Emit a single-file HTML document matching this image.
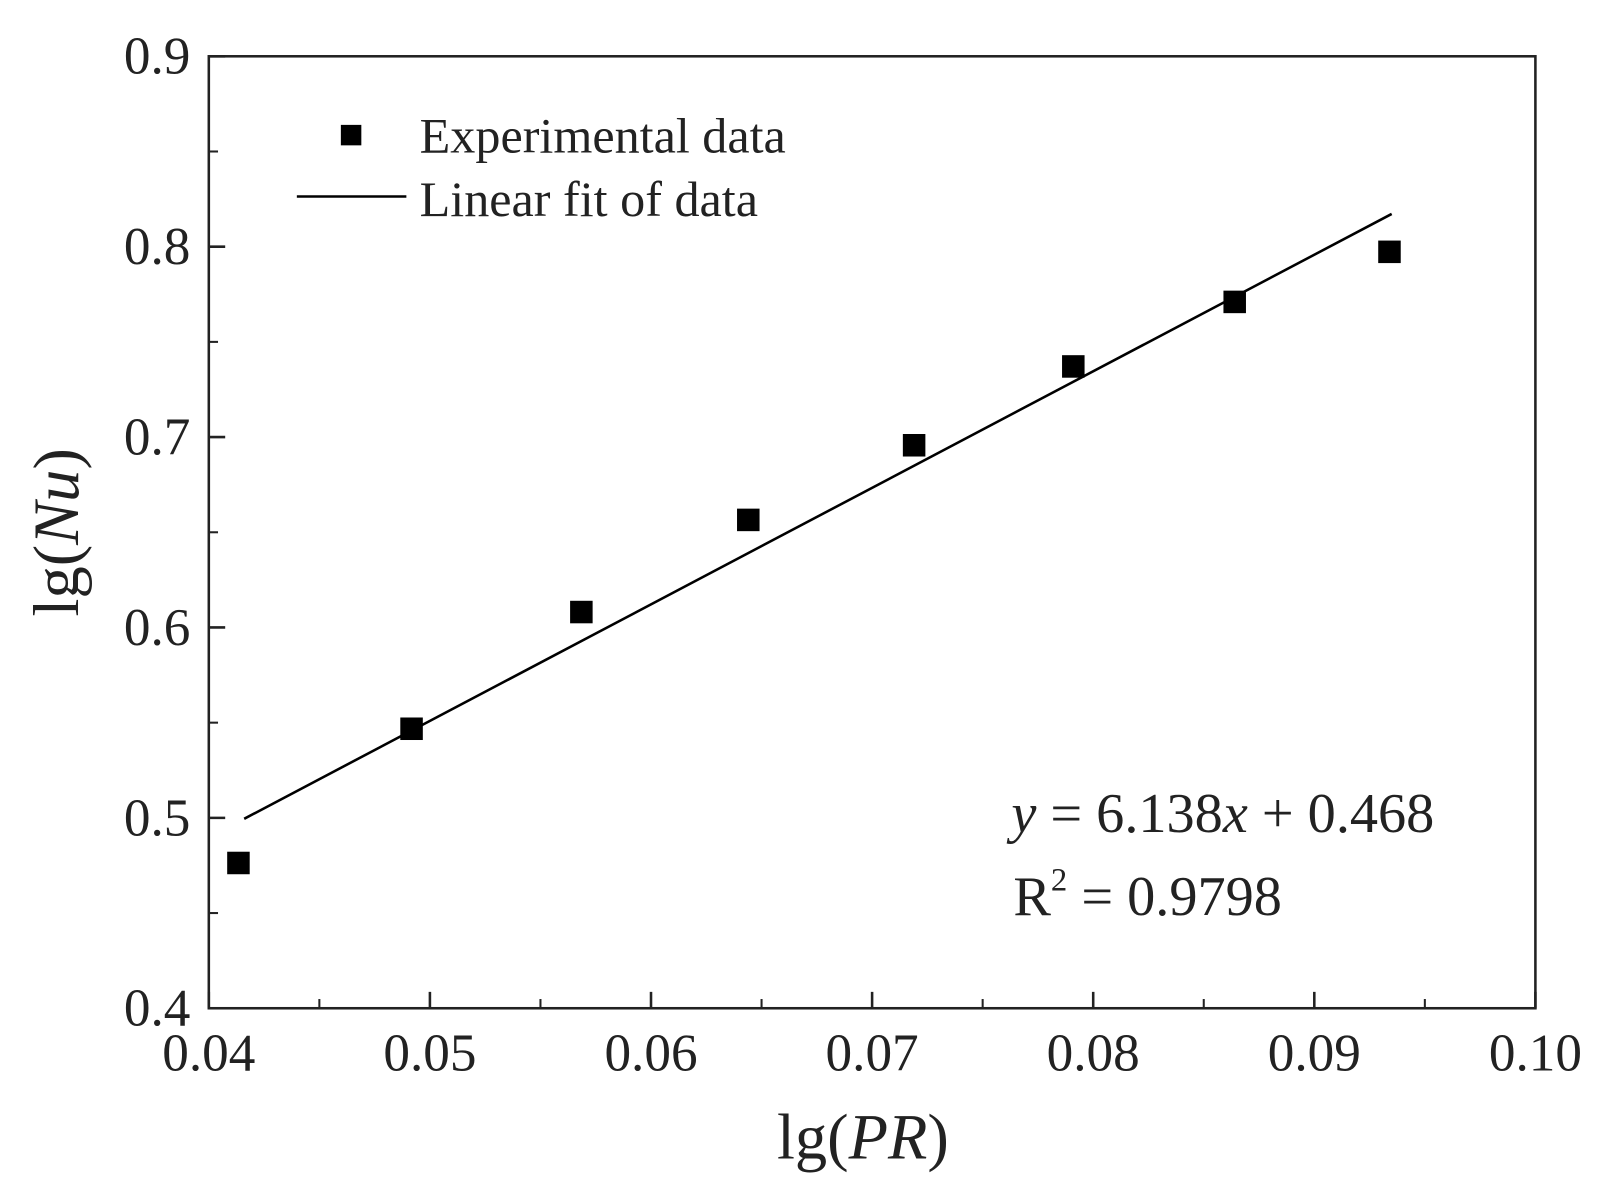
<!DOCTYPE html>
<html><head><meta charset="utf-8"><style>
html,body{margin:0;padding:0;background:#fff;}
svg{display:block;font-family:"Liberation Serif",serif;}
</style></head><body>
<svg id="chart" width="1605" height="1189" viewBox="0 0 1605 1189">
<g transform="scale(1.0236)">
<rect x="204" y="55" width="1296" height="930" fill="none" stroke="#222" stroke-width="2.5"/>
<g id="ticks"></g>
<g id="fit"></g>
<g id="pts"></g>
<g>
<rect x="333" y="122" width="20" height="20" fill="#000"/>
<text x="410" y="149" font-size="49" fill="#222">Experimental data</text>
<line x1="290" y1="192" x2="397" y2="192" stroke="#000" stroke-width="2.5"/>
<text x="410" y="211" font-size="49" fill="#222">Linear fit of data</text>
</g>
<text x="988" y="813" font-size="55" fill="#222"><tspan font-style="italic">y</tspan> = 6.138<tspan font-style="italic">x</tspan> + 0.468</text>
<text x="990" y="894" font-size="55" fill="#222">R<tspan dy="-24" font-size="32">2</tspan><tspan dy="24"> = 0.9798</tspan></text>
<text x="843" y="1132" font-size="63" text-anchor="middle" fill="#222">lg(<tspan font-style="italic">PR</tspan>)</text>
<text x="0" y="0" font-size="63" text-anchor="middle" fill="#222" transform="translate(76,520) rotate(-90)">lg(<tspan font-style="italic">Nu</tspan>)</text>
</g>
</svg>
<script>
const xTicks=[0.04,0.05,0.06,0.07,0.08,0.09,0.10];
const xTickLabels=["0.04","0.05","0.06","0.07","0.08","0.09","0.10"];
const yTicks=[0.4,0.5,0.6,0.7,0.8,0.9];
const yTickLabels=["0.4","0.5","0.6","0.7","0.8","0.9"];
const dataX=[0.04134,0.04917,0.05685,0.0644,0.0719,0.0791,0.0864,0.0934];
const dataY=[0.4763,0.5468,0.6081,0.6565,0.6957,0.7371,0.7710,0.7973];
const fitX=[0.0416,0.0935];
const fitY=[0.4995,0.8172];
const X0=204,X1=1500,Y0=985,Y1=55;
const sx=v=>X0+(v-0.04)/(0.06)*(X1-X0);
const sy=v=>Y0-(v-0.4)/(0.5)*(Y0-Y1);
const NS="http://www.w3.org/2000/svg";
function mk(tag,attrs,parent){const e=document.createElementNS(NS,tag);for(const k in attrs)e.setAttribute(k,attrs[k]);parent.appendChild(e);return e;}
const tg=document.getElementById('ticks');
xTicks.forEach((t,i)=>{
 const x=sx(t);
 const l=mk('line',{x1:x,y1:Y0,x2:x,y2:Y0-16,stroke:'#222','stroke-width':2.5},tg);
 
 
 const tx=mk('text',{x:x,y:1046,'font-size':52,'text-anchor':'middle',fill:'#222'},tg);
 tx.textContent=xTickLabels[i];
 
 
 if(i<xTicks.length-1){const xm=sx(t+0.005);
  const m=mk('line',{x1:xm,y1:Y0,x2:xm,y2:Y0-9,stroke:'#222','stroke-width':2},tg);
  
  }
});
yTicks.forEach((t,i)=>{
 const y=sy(t);
 const l=mk('line',{x1:X0,y1:y,x2:X0+16,y2:y,stroke:'#222','stroke-width':2.5},tg);
 
 
 const tx=mk('text',{x:186,y:y+17,'font-size':52,'text-anchor':'end',fill:'#222'},tg);
 tx.textContent=yTickLabels[i];
 
 
 if(i<yTicks.length-1){const ym=sy(t+0.05);
  const m=mk('line',{x1:X0,y1:ym,x2:X0+9,y2:ym,stroke:'#222','stroke-width':2},tg);
  
  }
});
const fl=mk('line',{x1:sx(fitX[0]),y1:sy(fitY[0]),x2:sx(fitX[1]),y2:sy(fitY[1]),stroke:'#000','stroke-width':2.5},document.getElementById('fit'));


const pg=document.getElementById('pts');
dataX.forEach((v,i)=>{
 const r=mk('rect',{x:sx(v)-11,y:sy(dataY[i])-11,width:22,height:22,fill:'#000'},pg);
 
 
});
</script>
</body></html>
